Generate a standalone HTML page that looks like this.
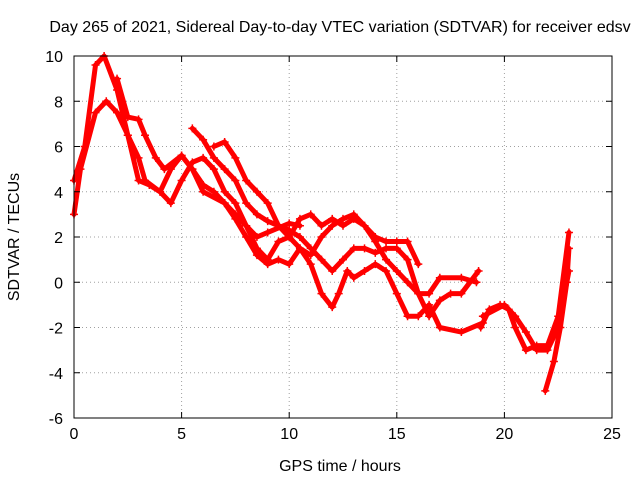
<!DOCTYPE html>
<html><head><meta charset="utf-8"><style>
body{margin:0;background:#fff;}
svg text{font-family:"Liberation Sans",sans-serif;font-size:16px;fill:#000;}
</style></head><body>
<svg id="chart" width="640" height="480" xmlns="http://www.w3.org/2000/svg">
<rect width="640" height="480" fill="#fff"/>
<text x="340" y="32" text-anchor="middle">Day 265 of 2021, Sidereal Day-to-day VTEC variation (SDTVAR) for receiver edsv</text>
<text x="340" y="471" text-anchor="middle">GPS time / hours</text>
<text transform="translate(19,237) rotate(-90)" text-anchor="middle">SDTVAR / TECUs</text>
<g id="grid"></g><g id="series"></g>
<rect x="74" y="56" width="538" height="362" fill="none" stroke="#000" stroke-width="1"/>
<g id="axes"></g>
</svg>
<script>
const xTicks=[0,5,10,15,20,25];
const yTicks=[-6,-4,-2,0,2,4,6,8,10];
const track1=[[0,4.5],[0.5,6],[1,9.6],[1.4,10],[2,8.5],[2.5,6.5],[3,4.5],[3.5,4.3],[4,4],[4.5,5],[5,5.6],[5.5,5],[6,4],[7,3.5],[7.5,2.8],[8,2],[8.5,1.2],[9,0.8],[9.5,1],[10,0.8],[10.5,1.5],[11,0.8],[11.5,-0.5],[12,-1.1],[12.3,-0.5],[12.7,0.5],[13,0.2],[13.5,0.5],[14,0.8],[14.5,0.5],[15,-0.5],[15.5,-1.5],[16,-1.5],[16.5,-1],[17,-2],[18,-2.2],[19,-1.8]];
const track2=[[0,3],[0.3,5],[1,7.5],[1.5,8],[2,7.5],[2.5,6.5],[3,5.5],[3.3,4.5],[4,4],[4.5,3.5],[5,4.5],[5.5,5.3],[6,5.5],[6.5,5],[7,4],[7.5,3.5],[8,2.5],[8.5,1.5],[9,1],[9.5,1.8],[10,2],[10.5,2.8],[11,3],[11.5,2.5],[12,2.8],[12.5,2.5],[13,2.8],[13.5,2.5],[14,1.8],[14.5,1],[15,0.5],[15.5,0],[16,-0.5],[16.5,-0.5],[17,0.2],[18,0.2],[18.7,0]];
const track3=[[5.5,6.8],[6,6.3],[6.5,5.5],[7,5],[7.5,4.5],[8,3.5],[8.5,3],[9,2.7],[9.5,2.5],[10,2.3],[10.5,2],[11,1.5],[11.5,1],[12,0.5],[12.5,1],[13,1.5],[13.5,1.5],[14,1.3],[14.5,1.5],[15,1.5],[15.5,1],[16,-0.5],[16.5,-1.5],[17,-0.8],[17.5,-0.5],[18,-0.5],[18.8,0.5]];
const track4=[[6.5,6],[7,6.2],[7.5,5.5],[8,4.5],[8.5,4],[9,3.5],[9.5,2.5],[10,2],[10.5,1.5],[11,1.2],[11.5,2],[12,2.5],[12.5,2.8],[13,3],[13.5,2.5],[14,2],[14.5,1.8],[15,1.8],[15.5,1.8],[16,0.8]];
const track5=[[2,9],[2.5,7.3],[3,7.2],[3.3,6.5],[3.8,5.5],[4.2,5],[5,5.6],[5.5,5],[6,4.3],[6.5,4],[7,3.5],[7.5,3],[8,2.5],[8.5,2],[9,2.2],[10,2.6],[10.5,2.5]];
const track6=[[18.9,-2],[19.3,-1.2],[19.8,-1],[20.2,-1.2],[20.5,-2],[21,-3],[21.5,-2.8],[22,-2.8],[22.5,-1.5],[23,2.2]];
const track7=[[19,-1.5],[20,-1],[20.5,-1.5],[21,-2.2],[21.5,-3],[22,-3],[22.5,-2],[23,0.5]];
const track8=[[21.9,-4.8],[22.3,-3.5],[22.6,-2],[22.9,0],[23,1.5]];
const tracks=[track1,track2,track3,track4,track5,track6,track7,track8];
const NS="http://www.w3.org/2000/svg";
const X0=74,X1=612,Y0=418,Y1=56;
function sx(v){return X0+(v-0)/(25-0)*(X1-X0);}
function sy(v){return Y0-(v+6)/16*(Y0-Y1);}
function mk(tag,attrs,parent){const e=document.createElementNS(NS,tag);for(const k in attrs)e.setAttribute(k,attrs[k]);parent.appendChild(e);return e;}
const grid=document.getElementById('grid'),axes=document.getElementById('axes'),ser=document.getElementById('series');
xTicks.forEach(t=>{const x=sx(t);
 if(t>0&&t<25){const g=mk('line',{x1:x,x2:x,y1:Y0,y2:Y1,stroke:'#a0a0a0','stroke-dasharray':'1,3'},grid);
 
 }
 mk('line',{x1:x,x2:x,y1:Y0,y2:Y0-6,stroke:'#000'},axes);
 mk('line',{x1:x,x2:x,y1:Y1,y2:Y1+6,stroke:'#000'},axes);
 const l=mk('text',{x:x,y:Y0+21,'text-anchor':'middle'},axes);l.textContent=t;
 
 
});
yTicks.forEach(t=>{const y=sy(t);
 if(t>-6&&t<10){const g=mk('line',{x1:X0,x2:X1,y1:y,y2:y,stroke:'#a0a0a0','stroke-dasharray':'1,3'},grid);
 
 }
 mk('line',{x1:X0,x2:X0+6,y1:y,y2:y,stroke:'#000'},axes);
 mk('line',{x1:X1,x2:X1-6,y1:y,y2:y,stroke:'#000'},axes);
 const l=mk('text',{x:X0-11,y:y+6,'text-anchor':'end'},axes);l.textContent=t;
 
 
});
tracks.forEach((tr,i)=>{
 const p=mk('polyline',{points:tr.map(d=>sx(d[0])+','+sy(d[1])).join(' '),fill:'none',stroke:'#ff0000','stroke-width':5,'stroke-linejoin':'round','stroke-linecap':'round'},ser);
 
 
 tr.forEach(d=>{const x=sx(d[0]),y=sy(d[1]);
  const m=mk('path',{d:`M${x-4},${y}H${x+4}M${x},${y-4}V${y+4}`,stroke:'#ff0000','stroke-width':1.5},ser);
  
  
 });
});
</script>
</body></html>
